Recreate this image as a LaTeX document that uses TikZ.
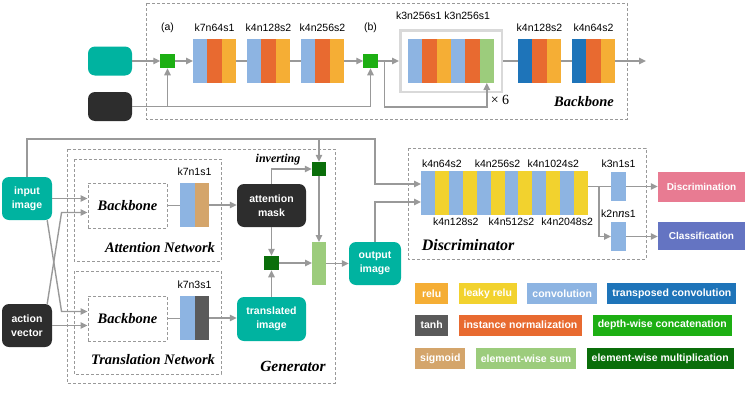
\documentclass[tikz,border=0pt]{standalone}
\usepackage{fontspec}
\setmainfont{Liberation Sans}
\newfontfamily\serifface{Liberation Serif}
\usetikzlibrary{positioning, arrows.meta}

\definecolor{tealc}{HTML}{00B3A0}
\definecolor{darkc}{HTML}{2D2D2D}
\definecolor{convc}{HTML}{8DB4E2}
\definecolor{tconvc}{HTML}{1E74B9}
\definecolor{reluc}{HTML}{F5AE35}
\definecolor{lreluc}{HTML}{F2D22E}
\definecolor{inormc}{HTML}{E86A30}
\definecolor{tanhc}{HTML}{5A5A5A}
\definecolor{sigc}{HTML}{D4A56B}
\definecolor{concatc}{HTML}{1DAF13}
\definecolor{sumc}{HTML}{9CCC7C}
\definecolor{mulc}{HTML}{0A6E0A}
\definecolor{discc}{HTML}{E87B92}
\definecolor{clsc}{HTML}{6474C2}

\begin{document}
\begin{tikzpicture}[x=1pt, y=-1pt,
    stripe/.style={minimum width=14.33pt, minimum height=44pt, inner sep=0pt, outer sep=0pt},
    opbox/.style={minimum size=14.5pt, inner sep=0pt, outer sep=0pt},
    conn/.style={draw=gray!80, line width=1.4pt},
    arr/.style={conn, -{Triangle[length=7pt, width=6.5pt]}},
    lbl/.style={font=\fontsize{10.5}{12}\selectfont, inner sep=0pt},
    dashbox/.style={draw=gray!80, line width=0.9pt, dash pattern=on 3pt off 2pt},
    titletext/.style={font=\serifface\bfseries\itshape\fontsize{14.5}{16}\selectfont, inner sep=0pt},
    roundbox/.style={rounded corners=7pt, text=white, font=\bfseries\fontsize{10.5}{14}\selectfont, align=center, inner sep=0pt},
    outbox/.style={text=white, font=\bfseries\fontsize{10}{12}\selectfont, minimum width=87pt, inner sep=0pt},
    legendbox/.style={text=white, font=\bfseries\fontsize{10.5}{12}\selectfont, minimum height=21pt, minimum width=33pt, inner xsep=5pt, inner ysep=0pt}
]
    \useasboundingbox (0,0) rectangle (747,399);

    % backbone frame and its inputs
    \draw[dashbox] (146,3) rectangle (627,119);
    \node[roundbox, fill=tealc, minimum width=44pt, minimum height=29pt] (tin) at (110,61) {};
    \node[roundbox, fill=darkc, minimum width=44pt, minimum height=29pt] (tvec) at (110,106.5) {};
    \node[opbox, fill=concatc] (ga) at (167.5,61) {};
    \node[opbox, fill=concatc] (gb) at (370.5,61) {};
    \node[lbl, above=21pt of ga] {(a)};
    \node[lbl, above=21pt of gb] {(b)};

    % conv blocks, three layers each
    \foreach \blk/\x/\ca/\cb/\cc in {b1/193/convc/inormc/reluc, b2/247/convc/inormc/reluc, b3/301/convc/inormc/reluc, b4/518/tconvc/inormc/reluc, b5/572/tconvc/inormc/reluc} {
        \node[stripe, fill=\ca, anchor=west] (\blk-1) at (\x,61) {};
        \node[stripe, fill=\cb, right=0pt of \blk-1] (\blk-2) {};
        \node[stripe, fill=\cc, right=0pt of \blk-2] (\blk-3) {};
    }
    \node[lbl, above=7pt of b1-2] {k7n64s1};
    \node[lbl, above=7pt of b2-2] {k4n128s2};
    \node[lbl, above=7pt of b3-2] {k4n256s2};
    \node[lbl, above=7pt of b4-2] {k4n128s2};
    \node[lbl, above=7pt of b5-2] {k4n64s2};

    % residual block, repeated six times
    \node[draw=gray!30, line width=2.5pt, minimum width=101.5pt, minimum height=61.5pt, inner sep=0pt] (rbox) at (451,61) {};
    \foreach \i/\c in {1/convc, 2/inormc, 3/reluc, 4/convc, 5/inormc, 6/sumc}
        \node[stripe, fill=\c, anchor=west] (r\i) at ({408+14.33*(\i-1)},61) {};
    \node[lbl, above=9pt of rbox, xshift=-8pt] {k3n256s1 k3n256s1};
    \node[font=\serifface\fontsize{14}{16}\selectfont, inner sep=0pt] (rep) at (500,100) {× 6};
    \node[titletext] (bbtitle) at (584,102) {Backbone};
    \coordinate (bbout) at (646,61);

    % backbone connectors
    \draw[arr] (tin.east) -- (tin.east -| ga.west);
    \draw[arr] (tvec.east) -| (gb.south);
    \draw[arr] (tvec.east -| ga.south) -- (ga.south);
    \draw[arr] (ga) -- (b1-1);
    \draw[conn] (b1-3) -- (b2-1);
    \draw[conn] (b2-3) -- (b3-1);
    \draw[arr] (b3-3) -- (gb);
    \draw[arr] (gb) -- (rbox);
    \draw[arr] (gb.east) -- ++(7,0) |- ([yshift=-24pt]r6.south) -- (r6.south);
    \draw[conn] (rbox) -- (b4-1);
    \draw[conn] (b4-3) -- (b5-1);
    \draw[arr] (b5-3) -- (bbout);

    % generator frames
    \draw[dashbox] (67,149) rectangle (335,383);
    \draw[dashbox] (74,159) rectangle (221,261);
    \draw[dashbox] (74,271) rectangle (221,374);
    \node[dashbox, titletext, minimum width=79pt, minimum height=45pt] (abb) at (127.5,205.5) {Backbone};
    \node[dashbox, titletext, minimum width=79pt, minimum height=45pt] (tbb) at (127.5,318.5) {Backbone};
    \node[titletext] at (160,248) {Attention Network};
    \node[titletext] at (153,360) {Translation Network};
    \node[titletext, font=\serifface\bfseries\itshape\fontsize{15.5}{17}\selectfont] at (293,366) {Generator};

    % generator heads
    \node[stripe, fill=convc, minimum width=14.5pt, anchor=west] (a7-1) at (180,205) {};
    \node[stripe, fill=sigc, minimum width=14.5pt, right=0pt of a7-1] (a7-2) {};
    \node[stripe, fill=convc, minimum width=14.5pt, anchor=west] (t7-1) at (180,318) {};
    \node[stripe, fill=tanhc, minimum width=14.5pt, right=0pt of t7-1] (t7-2) {};
    \node[lbl, above=7pt of a7-1.north east] {k7n1s1};
    \node[lbl, above=7pt of t7-1.north east] {k7n3s1};

    % images, vectors and masks
    \node[roundbox, fill=tealc, minimum width=50pt, minimum height=43pt] (inimg) at (27,198.5) {input\\image};
    \node[roundbox, fill=darkc, minimum width=50pt, minimum height=43pt] (actvec) at (27,325.5) {action\\vector};
    \node[roundbox, fill=darkc, minimum width=69pt, minimum height=43pt] (amask) at (271.5,205.5) {attention\\mask};
    \node[roundbox, fill=tealc, minimum width=69pt, minimum height=44pt] (timg) at (271.5,319) {translated\\image};
    \node[roundbox, fill=tealc, minimum width=52pt, minimum height=43pt] (outimg) at (375,263.5) {output\\image};
    \node[opbox, fill=mulc] (ginv) at (319,169) {};
    \node[opbox, fill=mulc] (gmul) at (271.5,263) {};
    \node[stripe, fill=sumc, minimum width=14pt, minimum height=43pt] (gsum) at (319,263.5) {};
    \node[titletext, font=\serifface\bfseries\itshape\fontsize{12}{14}\selectfont] at (278,160) {inverting};

    % discriminator
    \draw[dashbox] (408,148) rectangle (646,259);
    \foreach \i in {1,...,12} {
        \ifodd\i\relax \def\c{convc}\else \def\c{lreluc}\fi
        \node[stripe, fill=\c, minimum width=13.92pt, anchor=west] (d\i) at ({421+13.92*(\i-1)},193) {};
    }
    \node[lbl, above=3pt of d2] {k4n64s2};
    \node[lbl, above=3pt of d6] {k4n256s2};
    \node[lbl, above=3pt of d10] {k4n1024s2};
    \node[lbl, below=3pt of d3] {k4n128s2};
    \node[lbl, below=3pt of d7] {k4n512s2};
    \node[lbl, below=3pt of d11] {k4n2048s2};
    \node[stripe, fill=convc, minimum width=15pt, minimum height=29pt] (dk1) at (618.5,186.5) {};
    \node[stripe, fill=convc, minimum width=15pt, minimum height=29pt] (dk2) at (618.5,236.5) {};
    \node[lbl, above=4pt of dk1] {k3n1s1};
    \node[lbl, above=4pt of dk2] {k2n{\serifface\itshape\fontsize{13}{14}\selectfont n}s1};
    \node[outbox, fill=discc, minimum height=30pt] (discr) at (701.5,187) {Discrimination};
    \node[outbox, fill=clsc, minimum height=28pt] (cls) at (701.5,236) {Classification};
    \node[titletext, font=\serifface\bfseries\itshape\fontsize{16}{18}\selectfont] at (468,245) {Discriminator};

    % generator and discriminator connectors
    \coordinate (ttop) at (375,139);
    \draw[arr] (inimg.north) |- (ttop) |- ([yshift=9pt]d1.west);
    \draw[arr] (ginv.north |- ttop) -- (ginv.north);
    \draw[arr] (outimg.north) |- ([yshift=-9pt]d1.west);
    \draw[arr] (inimg.east) -- (inimg.east -| abb.west);
    \draw[arr] ([xshift=-5pt]inimg.south east) -- ([xshift=-26pt, yshift=7pt]tbb.west) -- ([yshift=7pt]tbb.west);
    \draw[arr] ([xshift=-5pt]actvec.north east) -- ([xshift=-26pt, yshift=-7pt]abb.west) -- ([yshift=-7pt]abb.west);
    \draw[arr] (actvec.east) -- (actvec.east -| tbb.west);
    \draw[conn] (abb.east) -- (abb.east -| a7-1.west);
    \draw[arr] (a7-2.east) -- (a7-2.east -| amask.west);
    \draw[conn] (tbb.east) -- (tbb.east -| t7-1.west);
    \draw[arr] (t7-2.east) -- (t7-2.east -| timg.west);
    \draw[arr] (amask.north) |- (ginv.west);
    \draw[arr] (amask.south) -- (gmul.north);
    \draw[arr] (timg.north) -- (gmul.south);
    \draw[arr] (gmul.east) -- (gmul.east -| gsum.west);
    \draw[arr] (ginv.south) -- (ginv.south |- gsum.north);
    \draw[arr] (gsum.east) -- (gsum.east -| outimg.west);
    \draw[conn] (dk1.west -| d12.east) -- (dk1.west);
    \draw[arr] ([xshift=11pt]dk1.west -| d12.east) |- (dk2.west);
    \draw[arr] (dk1.east) -- (dk1.east -| discr.west);
    \draw[arr] (dk2.east) -- (dk2.east -| cls.west);

    % legend
    \node[legendbox, fill=reluc, anchor=west] (lg1) at (415,293.5) {relu};
    \node[legendbox, fill=lreluc, right=10pt of lg1] (lg2) {leaky relu};
    \node[legendbox, fill=convc, right=10pt of lg2] (lg3) {convolution};
    \node[legendbox, fill=tconvc, right=10pt of lg3] (lg4) {transposed convolution};
    \node[legendbox, fill=tanhc, anchor=west] (lg5) at (415,325) {tanh};
    \node[legendbox, fill=inormc, right=10pt of lg5] (lg6) {instance normalization};
    \node[legendbox, fill=concatc, right=10pt of lg6] (lg7) {depth-wise concatenation};
    \node[legendbox, fill=sigc, anchor=west] (lg8) at (415,358.5) {sigmoid};
    \node[legendbox, fill=sumc, right=10pt of lg8] (lg9) {element-wise sum};
    \node[legendbox, fill=mulc, right=10pt of lg9] (lg10) {element-wise multiplication};
\end{tikzpicture}
\end{document}
